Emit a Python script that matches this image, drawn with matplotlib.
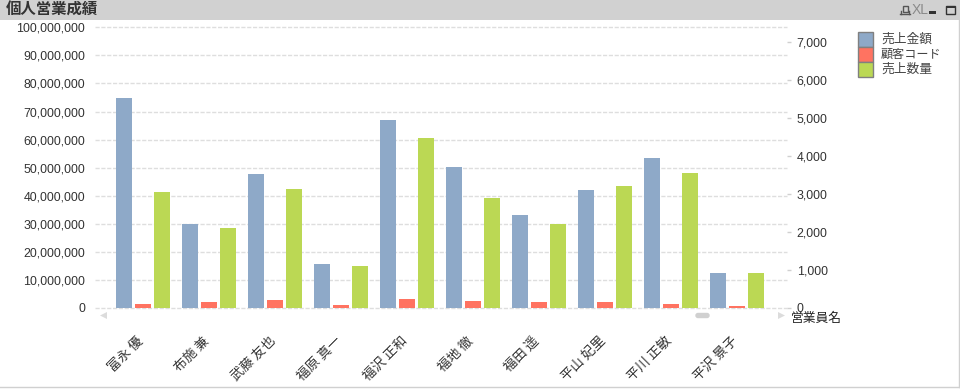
import matplotlib
matplotlib.use("Agg")
import matplotlib.pyplot as plt
from matplotlib.patches import Rectangle, Polygon, FancyBboxPatch
from matplotlib.ticker import FuncFormatter, MultipleLocator
from matplotlib.transforms import ScaledTranslation

W, H = 960, 389
FONT = ['Noto Sans CJK JP', 'DejaVu Sans']
NUMFONT = ['Liberation Sans', 'DejaVu Sans']
plt.rcParams['font.family'] = FONT

names = ['富永 優', '布施 兼', '武藤 友也', '福原 真一', '福沢 正和',
         '福地 徹', '福田 遥', '平山 妃里', '平川 正敏', '平沢 景子']
sales = [74.8e6, 29.9e6, 47.7e6, 15.7e6, 67.0e6, 50.2e6, 33.1e6, 42.0e6, 53.4e6, 12.5e6]
customers = [105, 158, 210, 79, 236, 184, 158, 158, 105, 53]
quantity = [3047, 2102, 3126, 1103, 4466, 2890, 2207, 3205, 3546, 919]
legend_labels = ['売上金額', '顧客コード', '売上数量']
colors = ['#8ea9c8', '#ff7361', '#bbd854']
title = '個人営業成績'
xlabel = '営業員名'

fig = plt.figure(figsize=(W / 100, H / 100), dpi=100, facecolor='white')

# full-figure pixel canvas for the window chrome
bg = fig.add_axes([0, 0, 1, 1], zorder=0)
bg.set_xlim(0, W); bg.set_ylim(H, 0); bg.axis('off')
bg.add_patch(Rectangle((0, 0), W, 20, fc='#d1d1d1', ec='none'))
bg.plot([958.5, 958.5], [20, 387], color='#d0d0d0', lw=1)
bg.plot([0, 959], [387, 387], color='#d0d0d0', lw=1)
bg.text(6, 10, title, fontsize=11.1, fontweight='bold', color='#333333', ha='left', va='center')

# caption icons
bg.add_patch(Rectangle((902.5, 5.5), 5, 6, fc='none', ec='#555555', lw=1))
bg.plot([900, 910], [13.5, 13.5], color='#555555', lw=1)
bg.plot([901, 901], [11, 13.5], color='#555555', lw=1)
bg.plot([909, 909], [11, 13.5], color='#555555', lw=1)
bg.text(920, 9.5, 'XL', fontsize=10, color='#8a8a8a', ha='center', va='center', family=NUMFONT,
        stretch='condensed')
bg.add_patch(Rectangle((929, 11), 7, 3, fc='#333333', ec='none'))
bg.add_patch(Rectangle((945.5, 5.5), 9, 8, fc='none', ec='#333333', lw=1))
bg.add_patch(Rectangle((945.5, 5.5), 9, 2, fc='#333333', ec='none'))

# scroll bar
bg.add_patch(Polygon([[100, 315.5], [107, 312], [107, 319]], fc='#dcdcdc', ec='none'))
bg.add_patch(Polygon([[785, 315.5], [778, 312], [778, 319]], fc='#dcdcdc', ec='none'))
bg.add_patch(FancyBboxPatch((696, 313.5), 13, 4, boxstyle='round,pad=0,rounding_size=2',
                            fc='#d0d0d0', ec='#d0d0d0', lw=1))

# plot axes: x 95..787, y 27.3..308 px
L, R, T, B = 95, 787, 27.3, 308
ax = fig.add_axes([L / W, 1 - B / H, (R - L) / W, (B - T) / H], zorder=2)
ax.patch.set_alpha(0)
spacing = 66
ax.set_xlim((L - 143) / spacing, (R - 143) / spacing)
ax.set_ylim(0, 100e6)
xs = list(range(len(names)))
bw = 16 / spacing
off = 19 / spacing

ax.bar([x - off for x in xs], sales, bw, color=colors[0], zorder=3)
ax.grid(axis='y', color='#dedede', lw=1, ls=(0, (3, 1.2)), zorder=1)
ax.set_axisbelow(True)
ax.yaxis.set_major_locator(MultipleLocator(10e6))
ax.yaxis.set_major_formatter(FuncFormatter(lambda v, p: f'{int(v):,}'))
ax.tick_params(axis='y', length=0, pad=7, labelsize=8.9, labelcolor='#333333')
for t in ax.get_yticklabels():
    t.set_family(NUMFONT)
for gl in ax.get_ygridlines():
    gl.set_clip_on(False)
ax.set_xticks(xs)
ax.set_xticklabels(names, rotation=45, ha='right', va='top', rotation_mode='anchor',
                   fontsize=9.6, color='#333333')
ax.tick_params(axis='x', length=0, pad=18.5)
shift = ScaledTranslation(-7 / 100, 0, fig.dpi_scale_trans)
for t in ax.get_xticklabels():
    t.set_transform(t.get_transform() + shift)
for s in ax.spines.values():
    s.set_visible(False)

ax2 = ax.twinx()
ax2.set_zorder(3)
ax2.patch.set_alpha(0)
ax2.set_ylim(0, (B - T) / (114.2 / 3) * 1000)
ax2.bar(xs, customers, bw, color=colors[1], zorder=3)
ax2.bar([x + off for x in xs], quantity, bw, color=colors[2], zorder=3)
ax2.yaxis.set_major_locator(MultipleLocator(1000))
ax2.yaxis.set_major_formatter(FuncFormatter(lambda v, p: f'{int(v):,}'))
ax2.tick_params(axis='y', length=3, width=1, color='#d0d0d0', pad=4, labelsize=8.9, labelcolor='#333333')
for t in ax2.get_yticklabels():
    t.set_family(NUMFONT)
for s in ax2.spines.values():
    s.set_visible(False)

# axis title and legend on a top pixel canvas
top = fig.add_axes([0, 0, 1, 1], zorder=5)
top.set_xlim(0, W); top.set_ylim(H, 0); top.axis('off')
top.text(791, 318, xlabel, fontsize=9.2, color='#222222', ha='left', va='center')
for i, (lab, c) in enumerate(zip(legend_labels, colors)):
    y = 32 + i * 15
    top.add_patch(Rectangle((857.5, y), 15, 15, fc=c, ec='#808080', lw=1))
    top.text(881, y + 7, lab, fontsize=9.2 if i != 1 else 8.7, color='#444444', ha='left', va='center')

fig.savefig('out.png', dpi=100)
